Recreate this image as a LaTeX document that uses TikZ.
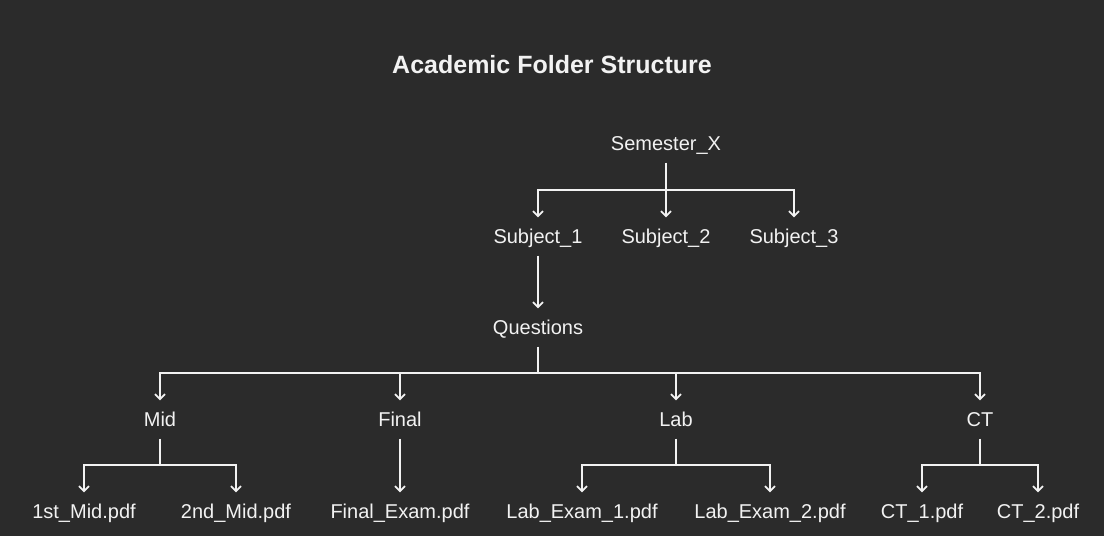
\documentclass[tikz,border=0pt]{standalone}
\usepackage{fontspec}
\setmainfont{Liberation Sans}
\usetikzlibrary{arrows.meta}
\definecolor{bg}{HTML}{2B2B2B}
\definecolor{fg}{HTML}{F2F2F2}
\begin{document}
\begin{tikzpicture}[x=1pt,y=-1pt,
  item/.style={text=fg,font=\fontsize{20}{22}\selectfont,inner xsep=2pt,inner ysep=8.2pt,text height=18pt,text depth=3.6pt,anchor=center},
  conn/.style={draw=fg,line width=1.8pt,-{Straight Barb[length=5pt,width=10pt]}},
  plain/.style={draw=fg,line width=1.8pt}]
\fill[bg] (0,0) rectangle (1104,536);
\useasboundingbox (0,0) rectangle (1104,536);
\node[text=fg,font=\bfseries\fontsize{25}{28}\selectfont] (title) at (552,64.5) {Academic Folder Structure};
\node[item] (sem) at (666,143.5) {Semester\_X};
\node[item] (s1) at (538,236.5) {Subject\_1};
\node[item] (s2) at (666,236.5) {Subject\_2};
\node[item] (s3) at (794,236.5) {Subject\_3};
\node[item] (q) at (538,327.5) {Questions};
\node[item] (mid) at (160,419.5) {Mid};
\node[item] (fin) at (400,419.5) {Final};
\node[item] (lab) at (676,419.5) {Lab};
\node[item] (ct) at (980,419.5) {CT};
\node[item] (m1) at (84,511.5) {1st\_Mid.pdf};
\node[item] (m2) at (236,511.5) {2nd\_Mid.pdf};
\node[item] (fe) at (400,511.5) {Final\_Exam.pdf};
\node[item] (l1) at (582,511.5) {Lab\_Exam\_1.pdf};
\node[item] (l2) at (770,511.5) {Lab\_Exam\_2.pdf};
\node[item] (c1) at (922,511.5) {CT\_1.pdf};
\node[item] (c2) at (1038,511.5) {CT\_2.pdf};
% Semester -> subjects
\draw[plain] (sem.south) -- ++(0,27.5) coordinate (bsem);
\draw[conn] (bsem) -| (s1.north);
\draw[conn] (bsem) -- (s2.north);
\draw[conn] (bsem) -| (s3.north);
% Subject_1 -> Questions
\draw[conn] (s1.south) -- (q.north);
% Questions -> categories
\draw[plain] (q.south) -- ++(0,26.5) coordinate (bq);
\draw[conn] (bq) -| (mid.north);
\draw[conn] (bq) -| (fin.north);
\draw[conn] (bq) -| (lab.north);
\draw[conn] (bq) -| (ct.north);
% Mid
\draw[plain] (mid.south) -- ++(0,26.5) coordinate (bm);
\draw[conn] (bm) -| (m1.north);
\draw[conn] (bm) -| (m2.north);
% Final
\draw[conn] (fin.south) -- (fe.north);
% Lab
\draw[plain] (lab.south) -- ++(0,26.5) coordinate (bl);
\draw[conn] (bl) -| (l1.north);
\draw[conn] (bl) -| (l2.north);
% CT
\draw[plain] (ct.south) -- ++(0,26.5) coordinate (bc);
\draw[conn] (bc) -| (c1.north);
\draw[conn] (bc) -| (c2.north);
\end{tikzpicture}
\end{document}
